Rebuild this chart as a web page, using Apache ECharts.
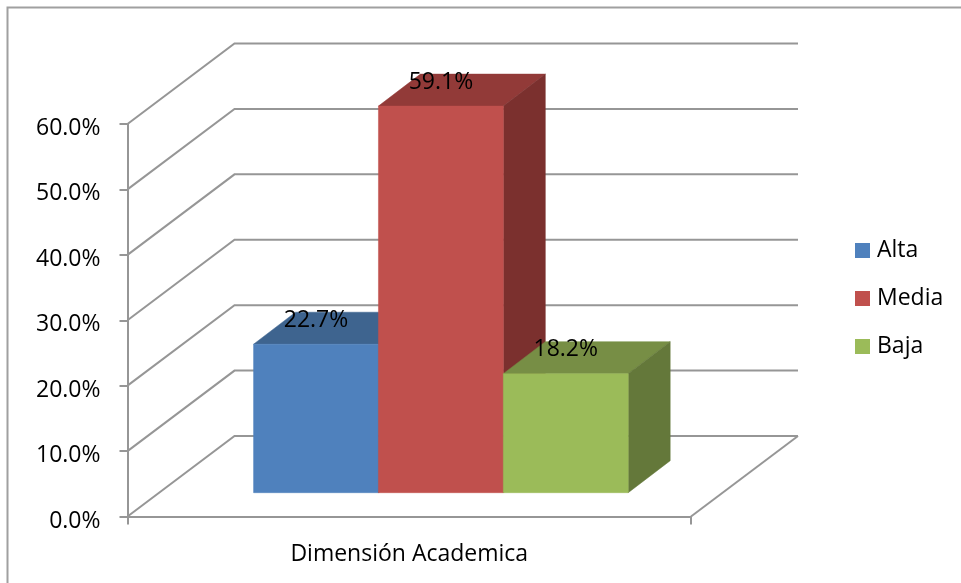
<!DOCTYPE html>
<html>
<head>
<meta charset="utf-8">
<style>html,body{margin:0;padding:0;background:#fff}#c{width:961px;height:583px}</style>
<script src="https://cdn.jsdelivr.net/npm/echarts@6/dist/echarts.min.js"></script>
</head>
<body>
<div id="c"></div>
<script>
const categories = ['Dimensión Academica'];
const seriesNames = ['Alta', 'Media', 'Baja'];
const alta = [22.7];
const media = [59.1];
const baja = [18.2];
const yTicks = [0, 10, 20, 30, 40, 50, 60];

const FONT = '"Open Sans", "Noto Sans", sans-serif';
const LINE = '#969696';
const WALL_DX = 107, WALL_DY = -80.5;       // full depth of the 3D box
const BAR_DX = 42, BAR_DY = -32;            // depth of each bar
const INSET = 23.8 / 80.5;                  // how far into the floor the bars stand
const BAR_BAND = 0.2216;                    // bar width as a share of the category band
const palettes = [
  { front: '#4F81BD', top: '#3E648F', side: '#34547C' },
  { front: '#C0504D', top: '#923A38', side: '#7B302E' },
  { front: '#9BBB59', top: '#778E45', side: '#64783A' }
];

function wallRender(params, api) {
  const cs = params.coordSys;
  const v = api.value(0);
  const y = api.coord([0, v])[1];
  const l = cs.x, r = cs.x + cs.width;
  const style = { stroke: LINE, lineWidth: 2, fill: null };
  const children = [{
    type: 'polyline',
    shape: { points: [[l, y], [l + WALL_DX, y + WALL_DY], [r + WALL_DX, y + WALL_DY]] },
    style
  }];
  if (v === 0) {
    children.push({
      type: 'line',
      shape: { x1: r, y1: y, x2: r + WALL_DX, y2: y + WALL_DY },
      style
    });
  }
  return { type: 'group', children };
}

function barRender(idx) {
  return function (params, api) {
    const pal = palettes[idx];
    const cat = api.value(0), val = api.value(1);
    const band = api.size([1, 0])[0];
    const w = band * BAR_BAND;
    const c0 = api.coord([cat, 0]);
    const c1 = api.coord([cat, val]);
    const sx = WALL_DX * INSET, sy = WALL_DY * INSET;
    const x0 = c0[0] + sx + (idx - 1.5) * w;
    const x1 = x0 + w;
    const yb = c0[1] + sy;
    const yt = c1[1] + sy;
    const poly = (pts, fill) => ({ type: 'polygon', shape: { points: pts }, style: { fill, stroke: fill, lineWidth: 0.5 } });
    return {
      type: 'group',
      children: [
        poly([[x0, yt], [x1, yt], [x1 + BAR_DX, yt + BAR_DY], [x0 + BAR_DX, yt + BAR_DY]], pal.top),
        poly([[x1, yt], [x1 + BAR_DX, yt + BAR_DY], [x1 + BAR_DX, yb + BAR_DY], [x1, yb]], pal.side),
        poly([[x0, yt], [x1, yt], [x1, yb], [x0, yb]], pal.front),
        {
          type: 'text',
          z2: 100,
          style: {
            text: val.toFixed(1) + '%',
            x: (x0 + x1) / 2, y: yt - 24,
            align: 'center', verticalAlign: 'middle',
            font: '23px ' + FONT, fill: '#000'
          }
        }
      ]
    };
  };
}

const values = [alta, media, baja];
const chart = echarts.init(document.getElementById('c'), null, { renderer: 'canvas' });
chart.setOption({
  animation: false,
  backgroundColor: '#fff',
  textStyle: { fontFamily: FONT },
  grid: { left: 127.5, top: 124, width: 563.5, height: 392.5, containLabel: false },
  graphic: [{
    type: 'rect', silent: true, z: 0,
    shape: { x: 7.5, y: 7.5, width: 1100, height: 800 },
    style: { fill: null, stroke: '#A0A0A0', lineWidth: 2 }
  }],
  legend: {
    orient: 'vertical', left: 850, top: 234,
    itemWidth: 15, itemHeight: 15, itemGap: 25,
    icon: 'rect',
    data: seriesNames,
    textStyle: { fontSize: 23, color: '#000', fontFamily: FONT, padding: [0, 0, 0, 2] },
    itemStyle: { borderWidth: 0 },
    selectedMode: false
  },
  xAxis: {
    type: 'category',
    data: categories,
    axisLine: { lineStyle: { color: LINE, width: 2 } },
    axisTick: { show: true, length: 8, lineStyle: { color: LINE, width: 2 } },
    axisLabel: { fontSize: 23, color: '#000', margin: 26, fontFamily: FONT }
  },
  yAxis: {
    type: 'value', min: 0, max: 60, interval: 10,
    axisLine: { show: true, lineStyle: { color: LINE, width: 2 } },
    axisTick: { show: true, length: 8, lineStyle: { color: LINE, width: 2 } },
    splitLine: { show: false },
    axisLabel: {
      fontSize: 23, color: '#000', margin: 27, fontFamily: FONT,
      verticalAlign: 'top', lineHeight: 9,
      formatter: v => v.toFixed(1) + '%'
    }
  },
  series: [
    {
      type: 'custom', name: 'walls', silent: true, z: 1,
      renderItem: wallRender,
      encode: { y: 0 },
      data: yTicks.map(t => [t])
    },
    ...seriesNames.map((name, i) => ({
      type: 'custom', name, z: 2 + i,
      itemStyle: { color: palettes[i].front },
      renderItem: barRender(i),
      encode: { x: 0, y: 1 },
      data: categories.map((c, k) => [k, values[i][k]])
    }))
  ]
});
</script>
</body>
</html>
